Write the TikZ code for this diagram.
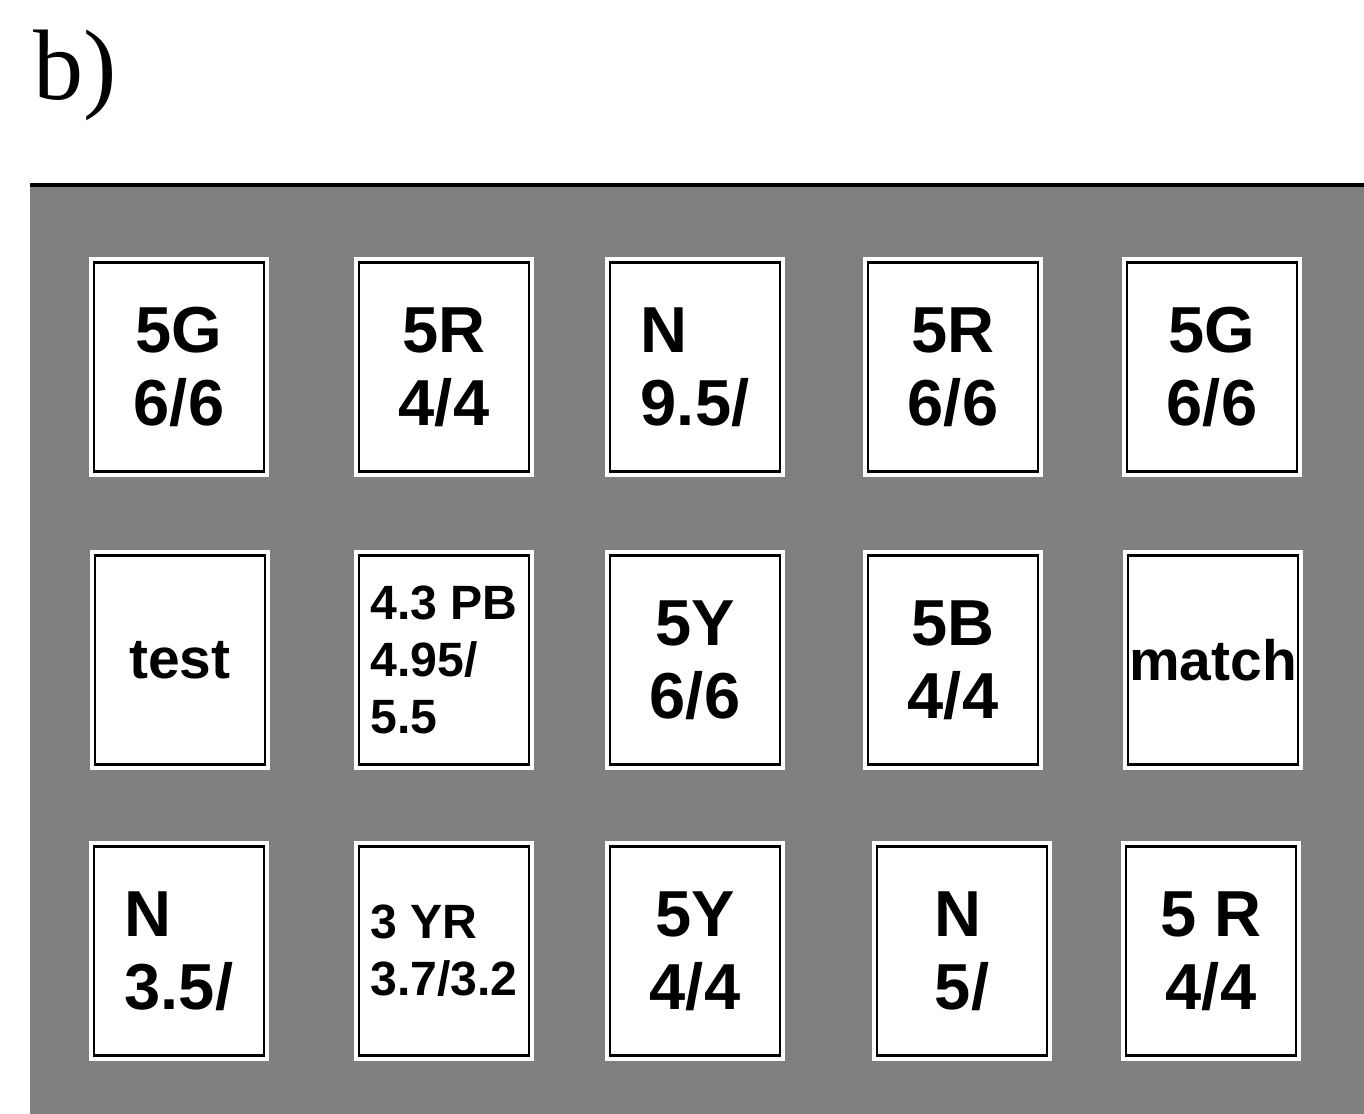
\documentclass[tikz,border=0pt]{standalone}
\usepackage{fontspec}
\setmainfont{Liberation Sans}
\newfontfamily\tagfont{Liberation Serif}
\usetikzlibrary{positioning}

\tikzset{
  chip/.style={draw=black, line width=0.8pt, fill=white, inner sep=0pt,
    minimum width=1.70cm, minimum height=2.09cm, align=center,
    font=\bfseries\fontsize{18.5}{20.8}\selectfont,
    preaction={draw=white, line width=3pt}},
  wordtext/.style={font=\bfseries\fontsize{16.2}{18}\selectfont},
  smallprint/.style={align=left, font=\bfseries\fontsize{13.7}{16.2}\selectfont},
}

\begin{document}
\begin{tikzpicture}
      \useasboundingbox (0,0) rectangle (13.64,11.14);

      % Label
      \node[anchor=base west, inner sep=0pt, font=\tagfont\fontsize{28.5}{30}\selectfont] (tag) at (0.33,10.14) {b)};

      % Grey surround
      \fill[black!50] (0.30,0) rectangle (13.64,9.29);
      \draw[line width=1.2pt] (0.30,9.29) -- (13.64,9.29);

      % Row 1
      \node[chip] (r1c1) at (1.79,7.47) {5G\\6/6};
      \node[chip] (r1c2) at (4.44,7.47) {5R\\4/4};
      \node[chip, align=left] (r1c3) at (6.95,7.47) {N\\9.5/};
      \node[chip] (r1c4) at (9.53,7.47) {5R\\6/6};
      \node[chip] (r1c5) at (12.12,7.47) {5G\\6/6};

      % Row 2
      \node[chip, wordtext] (r2c1) at (1.80,4.54) {test};
      \node[chip, smallprint] (r2c2) at (4.44,4.54) {4.3 PB\\4.95/\\5.5};
      \node[chip] (r2c3) at (6.95,4.54) {5Y\\6/6};
      \node[chip] (r2c4) at (9.53,4.54) {5B\\4/4};
      \node[chip, wordtext] (r2c5) at (12.13,4.54) {match};

      % Row 3
      \node[chip, align=left] (r3c1) at (1.79,1.63) {N\\3.5/};
      \node[chip, smallprint] (r3c2) at (4.44,1.63) {3 YR\\3.7/3.2};
      \node[chip] (r3c3) at (6.95,1.63) {5Y\\4/4};
      \node[chip, align=left] (r3c4) at (9.62,1.63) {N\\5/};
      \node[chip] (r3c5) at (12.11,1.63) {5 R\\4/4};
    \end{tikzpicture}
\end{document}
